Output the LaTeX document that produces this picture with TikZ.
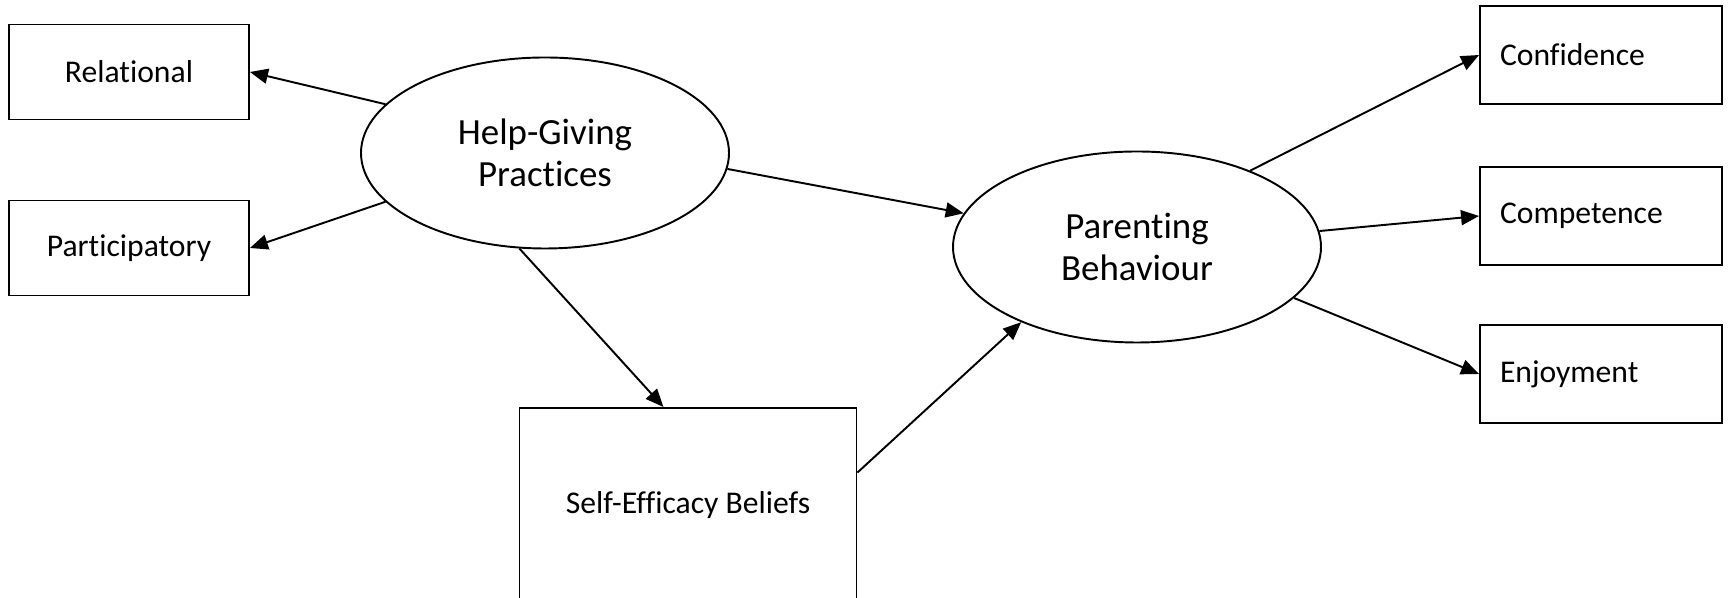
\documentclass[tikz,border=0pt]{standalone}
\usepackage{fontspec}
\setmainfont{Carlito}[RawFeature={-liga;-clig;-dlig;-calt}]
\usetikzlibrary{shapes.geometric,arrows.meta}

\begin{document}
\begin{tikzpicture}[
  facet/.style={draw, line width=1.1pt, minimum width=4.8cm, minimum height=1.9cm,
    font=\fontsize{18}{22}\selectfont},
  outcome/.style={facet, minimum width=4.84cm, minimum height=1.96cm,
    text width=4.04cm, inner xsep=0.4cm, align=left},
  construct/.style={draw, ellipse, line width=1.1pt, minimum width=7.36cm,
    minimum height=3.82cm, inner sep=0pt, align=center,
    font=\fontsize{21}{24}\selectfont},
  link/.style={line width=1.1pt, -{Triangle[length=0.36cm,width=0.3cm]}}
]
  \useasboundingbox (0,0) rectangle (34.58,11.96);
  % latent variables
  \node[construct] (hgp) at (10.9,8.9)  {Help-Giving\\Practices};
  \node[construct] (pb)  at (22.74,7.02) {Parenting\\Behaviour};
  % indicators of help-giving
  \node[facet] (rel)  at (2.58,10.52) {Relational};
  \node[facet] (part) at (2.58,7.0)   {Participatory};
  % mediator, its lower edge runs off the page
  \node[facet, minimum width=6.74cm, minimum height=3.9cm, anchor=north]
    (se) at (13.76,3.82) {Self-Efficacy Beliefs};
  % indicators of parenting
  \node[outcome] (conf) at (32.02,10.86) {Confidence};
  \node[outcome] (comp) at (32.02,7.64)  {Competence};
  \node[outcome] (enj)  at (32.02,4.48)  {Enjoyment};

  \draw[link] (hgp.163) -- (rel.east);
  \draw[link] (hgp.197) -- (part.east);
  \draw[link] (hgp.-5)  -- (pb.169);
  \draw[link] (hgp.-105) -- (se.104);
  \draw[link] (se.11)   -- (pb.213);
  \draw[link] (pb.34)   -- (conf.west);
  \draw[link] (pb.5)    -- (comp.west);
  \draw[link] (pb.-18)  -- (enj.west);
\end{tikzpicture}
\end{document}
